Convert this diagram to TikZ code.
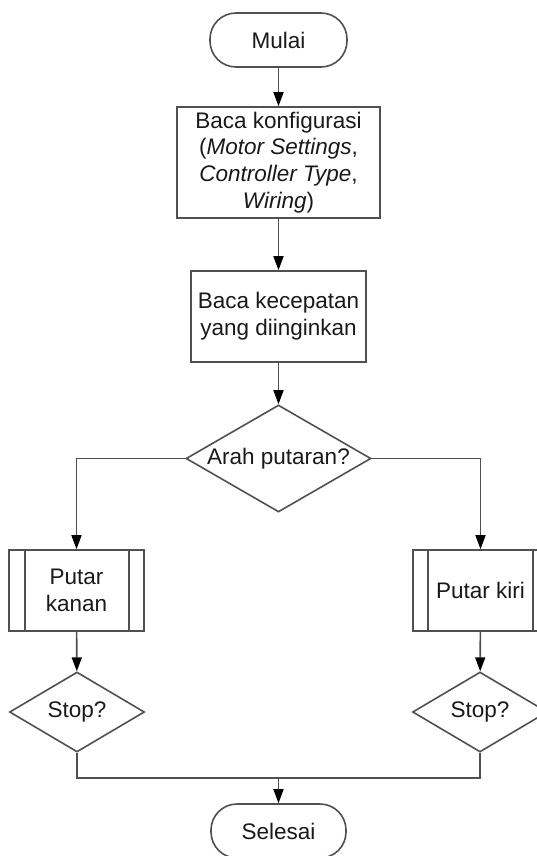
\documentclass[tikz,border=0pt]{standalone}
\usepackage{fontspec}
\setmainfont{Liberation Sans}
\usetikzlibrary{shapes.geometric,arrows.meta,calc}
\definecolor{ln}{RGB}{80,80,80}
\definecolor{tx}{RGB}{25,25,25}
\tikzset{
  base/.style={draw=ln, line width=1.6pt, text=tx, align=center, inner sep=0pt,
    font=\fontsize{22.5}{26.7}\selectfont},
  term/.style={base, rectangle, rounded corners=26pt},
  procbox/.style={base, rectangle},
  dia/.style={base, diamond, minimum size=0pt},
  lbl/.style={text=tx, align=center, inner sep=0pt, font=\fontsize{22.5}{26.7}\selectfont},
  conn/.style={draw=ln, line width=1.6pt, -{Triangle[length=14pt,width=10pt,fill=black,color=black]}},
  plain/.style={draw=ln, line width=1.6pt}
}
\begin{document}
\begin{tikzpicture}[x=1pt,y=-1pt]
\useasboundingbox (0,0) rectangle (537,856);
\clip (0,0) rectangle (537,856);
\node[term, minimum width=137pt, minimum height=54pt] (start) at (278.5,40) {Mulai};
\node[procbox, minimum width=203pt, minimum height=111pt] (b1) at (278.5,162.5)
  {Baca konfigurasi\\(\textit{Motor Settings},\\\textit{Controller Type},\\\textit{Wiring})};
\node[procbox, minimum width=175pt, minimum height=91pt] (b2) at (278.5,316.5)
  {Baca kecepatan\\yang diinginkan};
\node[dia, minimum width=185pt, minimum height=107pt] (d1) at (278.5,458.5) {};
\node[lbl] (d1t) at (d1.center) {Arah putaran?};
\node[procbox, minimum width=135pt, minimum height=81pt] (pk) at (76.5,590.5) {Putar\\kanan};
\node[procbox, minimum width=135pt, minimum height=81pt] (pki) at (480.5,590.5) {Putar kiri};
\draw[plain] ($(pk.north west)+(17,0)$) -- ($(pk.south west)+(17,0)$);
\draw[plain] ($(pk.north east)+(-16,0)$) -- ($(pk.south east)+(-16,0)$);
\draw[plain] ($(pki.north west)+(16,0)$) -- ($(pki.south west)+(16,0)$);
\draw[plain] ($(pki.north east)+(-16,0)$) -- ($(pki.south east)+(-16,0)$);
\node[dia, minimum width=135pt, minimum height=80pt] (s1) at (77,712) {};
\node[lbl] (s1t) at (s1.center) {Stop?};
\node[dia, minimum width=135pt, minimum height=80pt] (s2) at (480,712) {};
\node[lbl] (s2t) at (s2.center) {Stop?};
\node[term, minimum width=135pt, minimum height=54pt] (end) at (278.5,831) {Selesai};
\coordinate (m) at (278.5,778);
\draw[conn] (start) -- (b1);
\draw[conn] (b1) -- (b2);
\draw[conn] (b2) -- (d1);
\draw[conn] (d1.west) -| (pk.north);
\draw[conn] (d1.east) -| (pki.north);
\draw[conn] (pk) -- (s1);
\draw[conn] (pki) -- (s2);
\draw[plain] (s1.south) |- (m);
\draw[plain] (s2.south) |- (m);
\draw[conn] (m) -- (end);
\end{tikzpicture}
\end{document}
